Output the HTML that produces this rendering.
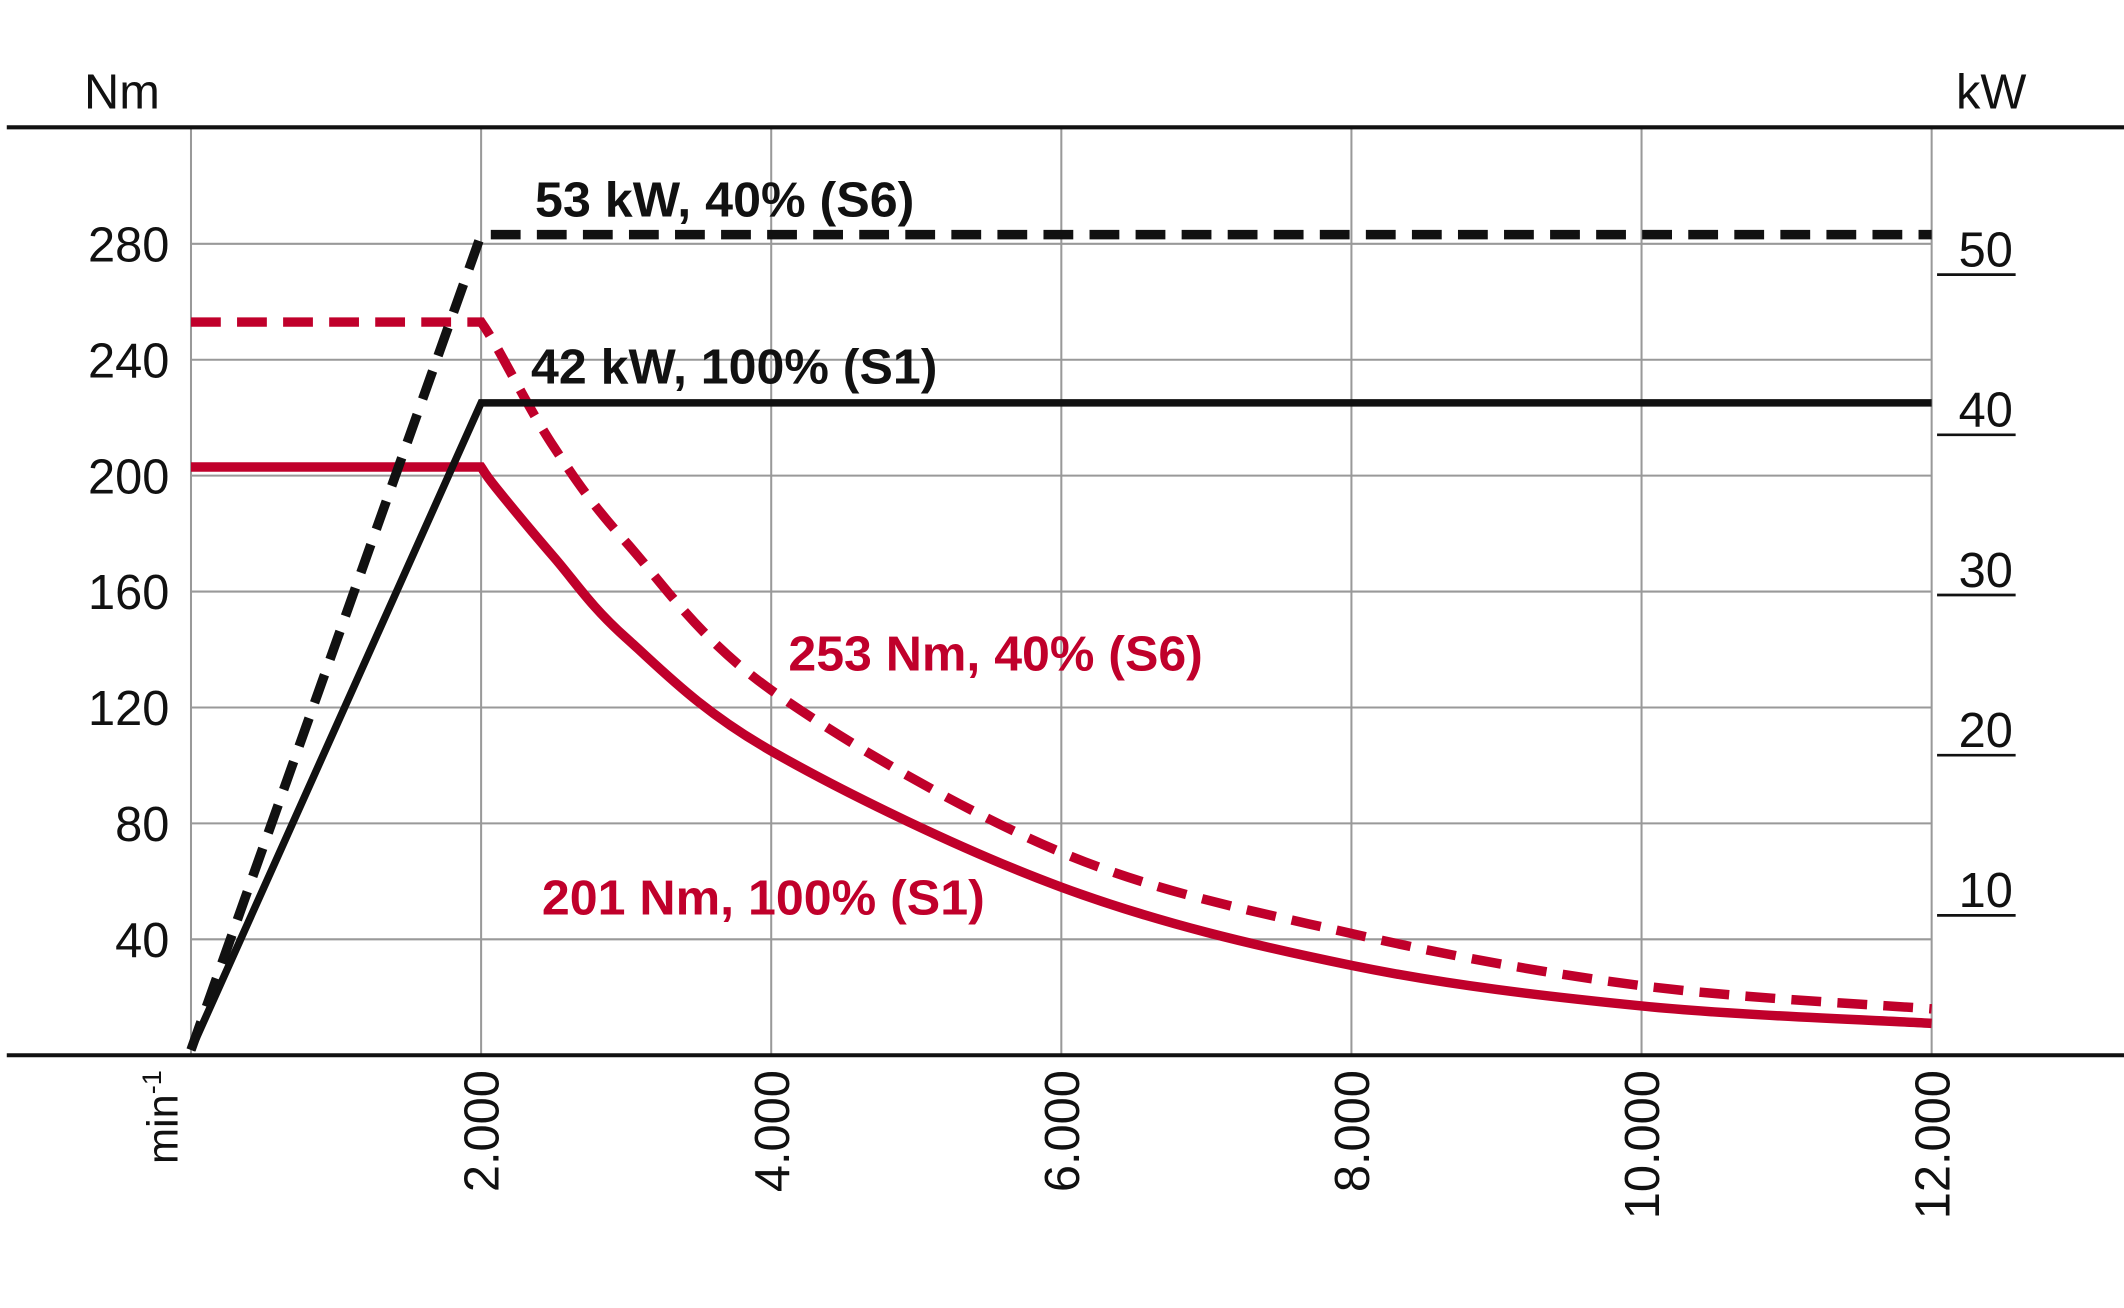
<!DOCTYPE html>
<html><head><meta charset="utf-8"><style>
html,body{margin:0;padding:0;background:#fff}
svg{display:block}
text{font-family:"Liberation Sans",sans-serif}
</style></head><body>
<svg id="chart" width="2124" height="1308" viewBox="0 0 1568 965.6" preserveAspectRatio="none" xmlns="http://www.w3.org/2000/svg">
<g id="grid"></g>
<g id="axes"></g>
<g id="series"></g>
<g id="labels"></g>
</svg>
<script>
const xTicks=[2000,4000,6000,8000,10000,12000];
const xTickLabels=["2.000","4.000","6.000","8.000","10.000","12.000"];
const yTicks=[40,80,120,160,200,240,280];
const kwTicks=[10,20,30,40,50];
const s1TorqueRpm=[0,2000,2100,2500,3000,4000,6000,8000,10000,12000];
const s1TorqueNm=[203,203,196,172,144,105,58,31,17,11];
const s6TorqueRpm=[0,2000,2100,2500,3000,4000,6000,8000,10000,12000];
const s6TorqueNm=[253,253,245,210,177,126,70,42,24,16];
const s1PowerRpm=[0,2000,12000];
const s1PowerKw=[1.6,42,42];
const s6PowerRpm=[0,2000,12000];
const s6PowerKw=[1.6,52.5,52.5];

const NS="http://www.w3.org/2000/svg";
const X=v=>141+v*(1426-141)/12000;
const Y=v=>779-v*(779-180)/280;
const K=v=>794-v*11.825;
function mk(p,tag,a,txt){const e=document.createElementNS(NS,tag);for(const k in a)e.setAttribute(k,a[k]);if(txt!==undefined)e.textContent=txt;document.getElementById(p).appendChild(e);return e;}

// grid
xTicks.forEach(v=>{const e=mk('grid','line',{x1:X(v),x2:X(v),y1:94,y2:779,stroke:'#999','stroke-width':1.5});

});
{const e=mk('grid','line',{x1:X(0),x2:X(0),y1:94,y2:779,stroke:'#999','stroke-width':1.5});

}
yTicks.forEach(v=>{const e=mk('grid','line',{x1:X(0),x2:1426,y1:Y(v),y2:Y(v),stroke:'#999','stroke-width':1.5});


const t=mk('labels','text',{x:125,y:Y(v)+13,'text-anchor':'end','font-size':36,fill:'#111'},String(v));

});
kwTicks.forEach(v=>{const e=mk('grid','line',{x1:1430,x2:1488,y1:K(v),y2:K(v),stroke:'#111','stroke-width':2});


const t=mk('labels','text',{x:1486,y:K(v)-6,'text-anchor':'end','font-size':36,fill:'#111'},String(v));

});
// axes
{const a=mk('axes','line',{x1:5,x2:1568,y1:94,y2:94,stroke:'#111','stroke-width':3});


const b=mk('axes','line',{x1:5,x2:1568,y1:779,y2:779,stroke:'#111','stroke-width':3});

}
xTicks.forEach((v,i)=>{const t=mk('labels','text',{x:0,y:0,'text-anchor':'end','font-size':36,fill:'#111',transform:`translate(${X(v)+13},790) rotate(-90)`},xTickLabels[i]);

});
{const t=mk('labels','text',{x:0,y:0,'text-anchor':'end','font-size':32,fill:'#111',transform:'translate(131,790) rotate(-90)'});
t.innerHTML='min<tspan dy="-12" font-size="20">-1</tspan>';


const n=mk('labels','text',{x:62,y:80,'font-size':36,fill:'#111'},'Nm');


const k=mk('labels','text',{x:1444,y:80,'font-size':36,fill:'#111'},'kW');

}
function path(xs,ys,fy){return xs.map((v,i)=>(i?'L':'M')+X(v).toFixed(1)+' '+fy(ys[i]).toFixed(1)).join(' ');}
function curve(xs,ys,fy){// smooth via catmull-rom
const p=xs.map((v,i)=>[X(v),fy(ys[i])]);let d='M'+p[0][0]+' '+p[0][1]+' L'+p[1][0]+' '+p[1][1];
for(let i=1;i<p.length-1;i++){const p0=p[i-1<1?1:i-1],p1=p[i],p2=p[i+1],p3=p[i+2]||p2;
d+=` C${p1[0]+(p2[0]-p0[0])/6} ${p1[1]+(p2[1]-p0[1])/6} ${p2[0]-(p3[0]-p1[0])/6} ${p2[1]-(p3[1]-p1[1])/6} ${p2[0]} ${p2[1]}`;}return d;}
const red='#c0002b';
const s=[
 ['s1-torque-line',curve(s1TorqueRpm,s1TorqueNm,Y),red,7,''],
 ['s6-torque-line',curve(s6TorqueRpm,s6TorqueNm,Y),red,7,'22 12'],
 ['s1-power-line',path(s1PowerRpm,s1PowerKw,K),'#111',5.5,''],
 ['s6-power-line',path(s6PowerRpm,s6PowerKw,K),'#111',7,'22 12']];
s.forEach(r=>{const e=mk('series','path',{d:r[1],fill:'none',stroke:r[2],'stroke-width':r[3],'stroke-dasharray':r[4]});

});
const L=[['s6-power-label',395,160,'53 kW, 40% (S6)','#111',280],['s1-power-label',392,283,'42 kW, 100% (S1)','#111',300],
['s6-torque-label',582,495,'253 Nm, 40% (S6)',red,306],['s1-torque-label',400,675,'201 Nm, 100% (S1)',red,327]];
L.forEach(l=>{const t=mk('labels','text',{x:l[1],y:l[2],'font-size':36,'font-weight':'bold',fill:l[4],textLength:l[5],lengthAdjust:'spacingAndGlyphs'},l[3]);

});
</script>
</body></html>
